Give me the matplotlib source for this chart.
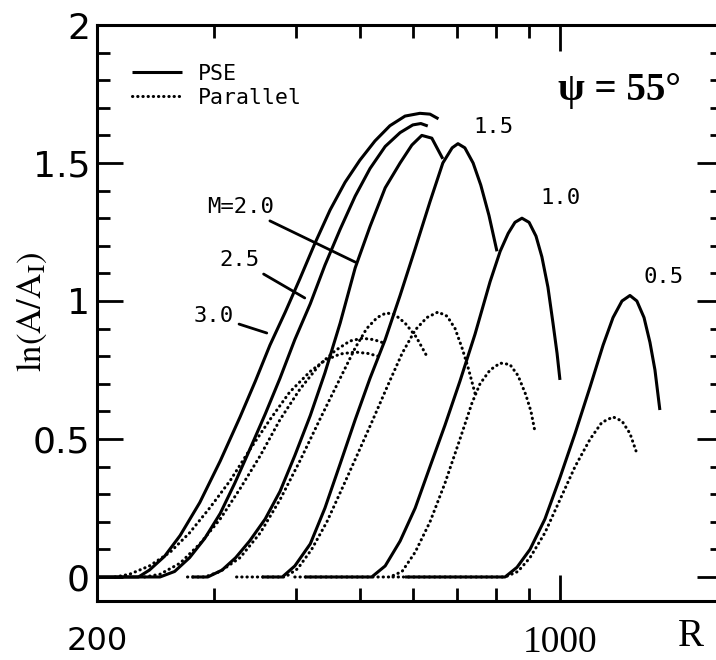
import numpy as np
import matplotlib.pyplot as plt

plt.rcParams["font.family"] = "DejaVu Sans"
plt.rcParams["mathtext.fontset"] = "stix"

# PSE curves (solid), R and ln(A/A_I)
r_pse_30 = [200, 231, 240, 253, 267, 286, 307, 329, 347, 365, 385, 405, 427, 450, 474, 499, 526, 554, 584, 615, 637, 656]
a_pse_30 = [0, 0, 0.025, 0.075, 0.15, 0.27, 0.42, 0.58, 0.71, 0.84, 0.96, 1.08, 1.21, 1.33, 1.43, 1.51, 1.58, 1.635, 1.67, 1.68, 1.677, 1.66]
r_pse_25 = [200, 249, 262, 276, 291, 307, 323, 340, 359, 378, 398, 420, 442, 466, 491, 517, 545, 574, 600, 617, 632]
a_pse_25 = [0, 0, 0.02, 0.07, 0.14, 0.23, 0.34, 0.46, 0.59, 0.72, 0.86, 0.99, 1.13, 1.26, 1.38, 1.48, 1.56, 1.61, 1.638, 1.643, 1.634]
r_pse_20 = [278, 294, 309, 324, 340, 359, 378, 398, 420, 442, 466, 491, 517, 545, 574, 598, 619, 641, 666]
a_pse_20 = [0, 0, 0.025, 0.07, 0.13, 0.21, 0.31, 0.44, 0.585, 0.74, 0.92, 1.12, 1.27, 1.41, 1.50, 1.565, 1.60, 1.59, 1.515]
r_pse_15 = [355, 381, 398, 420, 442, 466, 491, 517, 545, 574, 605, 637, 666, 688, 702, 719, 740, 760, 782, 804]
a_pse_15 = [0, 0, 0.04, 0.12, 0.25, 0.41, 0.57, 0.72, 0.86, 1.02, 1.19, 1.36, 1.50, 1.555, 1.57, 1.555, 1.50, 1.42, 1.31, 1.18]
r_pse_10 = [412, 520, 545, 574, 605, 637, 671, 707, 745, 785, 813, 836, 856, 877, 899, 921, 940, 960, 977, 991, 1001]
a_pse_10 = [0, 0, 0.04, 0.13, 0.25, 0.40, 0.55, 0.71, 0.88, 1.07, 1.18, 1.245, 1.285, 1.30, 1.285, 1.235, 1.16, 1.05, 0.92, 0.81, 0.714]
r_pse_05 = [584, 827, 862, 902, 950, 1001, 1055, 1112, 1163, 1204, 1242, 1277, 1308, 1341, 1369, 1393, 1417]
a_pse_05 = [0, 0, 0.035, 0.10, 0.21, 0.36, 0.52, 0.69, 0.84, 0.94, 1.0, 1.02, 1.0, 0.94, 0.85, 0.75, 0.605]

# Parallel-flow curves (dotted)
r_par_30 = [213, 224, 240, 258, 276, 296, 318, 340, 365, 391, 420, 442, 466, 491, 513, 532]
a_par_30 = [0, 0.01, 0.04, 0.09, 0.16, 0.25, 0.35, 0.46, 0.57, 0.67, 0.745, 0.785, 0.808, 0.815, 0.81, 0.80]
r_par_25 = [236, 249, 267, 286, 307, 329, 353, 378, 405, 434, 458, 482, 503, 524, 539]
a_par_25 = [0, 0.01, 0.05, 0.12, 0.21, 0.32, 0.44, 0.57, 0.68, 0.77, 0.82, 0.855, 0.865, 0.86, 0.85]
r_par_20 = [274, 291, 307, 329, 353, 378, 405, 434, 466, 491, 511, 530, 547, 564, 584, 607, 630]
a_par_20 = [0, 0, 0.02, 0.07, 0.16, 0.28, 0.42, 0.57, 0.72, 0.83, 0.90, 0.94, 0.957, 0.95, 0.92, 0.87, 0.80]
r_par_15 = [325, 385, 402, 422, 445, 469, 494, 520, 549, 578, 605, 630, 655, 676, 695, 712, 727, 745]
a_par_15 = [0, 0, 0.03, 0.10, 0.20, 0.32, 0.44, 0.56, 0.69, 0.81, 0.895, 0.94, 0.96, 0.945, 0.90, 0.83, 0.76, 0.665]
r_par_10 = [398, 554, 578, 605, 637, 671, 707, 737, 758, 785, 813, 841, 865, 889, 905, 918]
a_par_10 = [0, 0, 0.02, 0.09, 0.20, 0.34, 0.50, 0.63, 0.70, 0.75, 0.775, 0.77, 0.73, 0.66, 0.60, 0.525]
r_par_05 = [560, 827, 865, 902, 950, 1001, 1055, 1112, 1158, 1204, 1242, 1277, 1304]
a_par_05 = [0, 0, 0.02, 0.07, 0.16, 0.28, 0.40, 0.50, 0.56, 0.58, 0.565, 0.52, 0.457]

pse = [(r_pse_30, a_pse_30), (r_pse_25, a_pse_25), (r_pse_20, a_pse_20),
       (r_pse_15, a_pse_15), (r_pse_10, a_pse_10), (r_pse_05, a_pse_05)]
par = [(r_par_30, a_par_30), (r_par_25, a_par_25), (r_par_20, a_par_20),
       (r_par_15, a_par_15), (r_par_10, a_par_10), (r_par_05, a_par_05)]

x_major = [200, 1000]
x_major_labels = ["200", "1000"]
x_minor = [300, 400, 500, 600, 700, 800, 900]
y_major = [0, 0.5, 1, 1.5, 2]
y_major_labels = ["0", "0.5", "1", "1.5", "2"]
y_minor = np.arange(0, 2.01, 0.1)

fig = plt.figure(figsize=(7.16, 6.6), dpi=100)
ax = fig.add_axes([97/716, 59/660, 626/716, 576/660])

lw = 2.2
dots = (0, (0.1, 1.6))
for r, a in pse:
    h_pse, = ax.plot(r, a, color="k", lw=lw, solid_capstyle="butt", solid_joinstyle="round")
for r, a in par:
    h_par, = ax.plot(r, a, color="k", lw=lw, ls=dots, dash_capstyle="round")

ax.set_xscale("log")
ax.set_xlim(200, 1765)
ax.set_ylim(-0.087, 2.0)

ax.set_xticks(x_major, labels=x_major_labels)
ax.set_xticks(x_minor, minor=True)
ax.xaxis.set_minor_formatter(plt.NullFormatter())
ax.set_yticks(y_major, labels=y_major_labels)
ax.set_yticks(y_minor, minor=True)

ax.tick_params(which="both", direction="in", top=True, right=True, width=2)
ax.tick_params(which="major", length=18.5)
ax.tick_params(which="minor", length=9.5)
ax.tick_params(axis="x", labelsize=23, pad=18)
ax.tick_params(axis="y", labelsize=26, pad=5)
t1000 = ax.xaxis.get_major_ticks()[1].label1
t1000.set_fontfamily("Liberation Serif")
t1000.set_fontsize(27)

for s in ax.spines.values():
    s.set_linewidth(2.2)

ax.set_xlabel("R", fontfamily="Liberation Serif", fontsize=28, va="center")
ax.xaxis.set_label_coords(0.948, -0.0625)
ax.set_ylabel(r"$\mathrm{ln(A/A_I)}$", fontsize=25, va="center")
ax.yaxis.set_label_coords(-0.104, 0.503)

ax.legend([h_pse, h_par], ["PSE", "Parallel"], loc="upper left",
          bbox_to_anchor=(0.0559, 0.933), frameon=False, borderpad=0,
          borderaxespad=0, handlelength=2.3, handletextpad=0.75,
          labelspacing=0.2, prop={"family": "DejaVu Sans Mono", "size": 15.5})

mono = dict(fontfamily="DejaVu Sans Mono", fontsize=16, ha="center", va="center")
pointer = dict(arrowstyle="-", lw=2, color="k", shrinkA=2, shrinkB=0)
ax.annotate("M=2.0", xy=(491, 1.141), xytext=(330, 1.341), arrowprops=pointer, **mono)
ax.annotate("2.5", xy=(412, 1.011), xytext=(328, 1.149), arrowprops=pointer, **mono)
ax.annotate("3.0", xy=(361, 0.884), xytext=(300, 0.946), arrowprops=pointer, **mono)
ax.text(793, 1.630, "1.5", **mono)
ax.text(1004, 1.373, "1.0", **mono)
ax.text(1437, 1.087, "0.5", **mono)
ax.text(1233, 1.764, "ψ = 55°", fontfamily="Liberation Serif", fontsize=28,
        fontweight="bold", ha="center", va="center")

fig.savefig("out.png", dpi=100)
